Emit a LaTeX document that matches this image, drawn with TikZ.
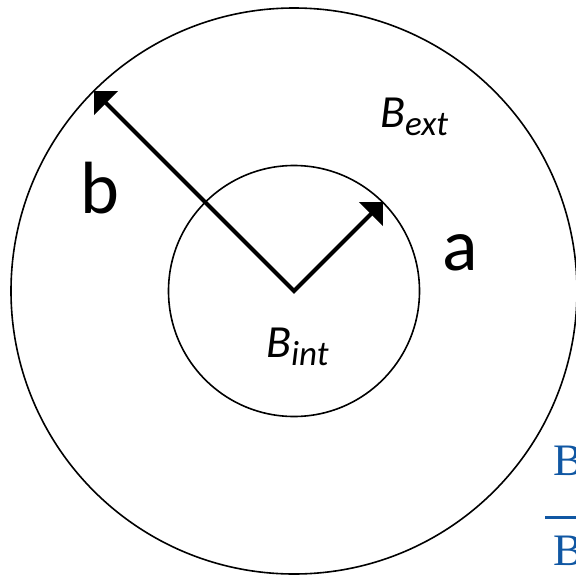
\documentclass[tikz,border=0pt]{standalone}
\usepackage{fontspec}
\setmainfont{Carlito}
\newfontfamily\fracfont{Liberation Serif}
\usepackage{tikz}
\usetikzlibrary{arrows.meta}
\definecolor{fracblue}{RGB}{16,87,163}
\newcommand{\subtxt}[1]{\raisebox{-8pt}{\fontsize{35}{35}\selectfont #1}}

\begin{document}
\begin{tikzpicture}[x=1pt,y=-1pt,
   ring/.style={line width=1.6pt},
   radarrow/.style={line width=4pt,miter limit=10,
      {Triangle[length=17pt,width=33pt]}-{Triangle[length=17pt,width=33pt]}},
   letter/.style={inner sep=0pt,anchor=base,font=\fontsize{74}{74}\selectfont},
   field/.style={inner sep=0pt,anchor=base west,font=\fontsize{46}{46}\selectfont\itshape},
   frac/.style={inner sep=0pt,anchor=base west,text=fracblue,font=\fontsize{45}{45}\selectfont\fracfont}]
\useasboundingbox (0,0) rectangle (576,576);
\coordinate (o) at (294,291);
\draw[ring] (o) circle[radius=283pt];
\draw[ring] (o) circle[radius=125.5pt];
% radii
\coordinate (tipb) at (94,91);
\coordinate (tipa) at (383,202);
\draw[radarrow] (tipb) -- (o) -- (tipa);
\node[letter] (lb) at (100,213) {b};
\node[letter] (la) at (460,270) {a};
\node[field] (bext) at (380,127) {B\subtxt{ext}};
\node[field] (bint) at (266,357) {B\subtxt{int}};
% cut fraction
\node[frac] (fnum) at (553,475) {B};
\coordinate (barl) at (545,517);
\coordinate (barr) at (590,517);
\draw[fracblue,line width=3pt] (barl) -- (barr);
\node[frac] (fden) at (553,565) {B};
\end{tikzpicture}
\end{document}
